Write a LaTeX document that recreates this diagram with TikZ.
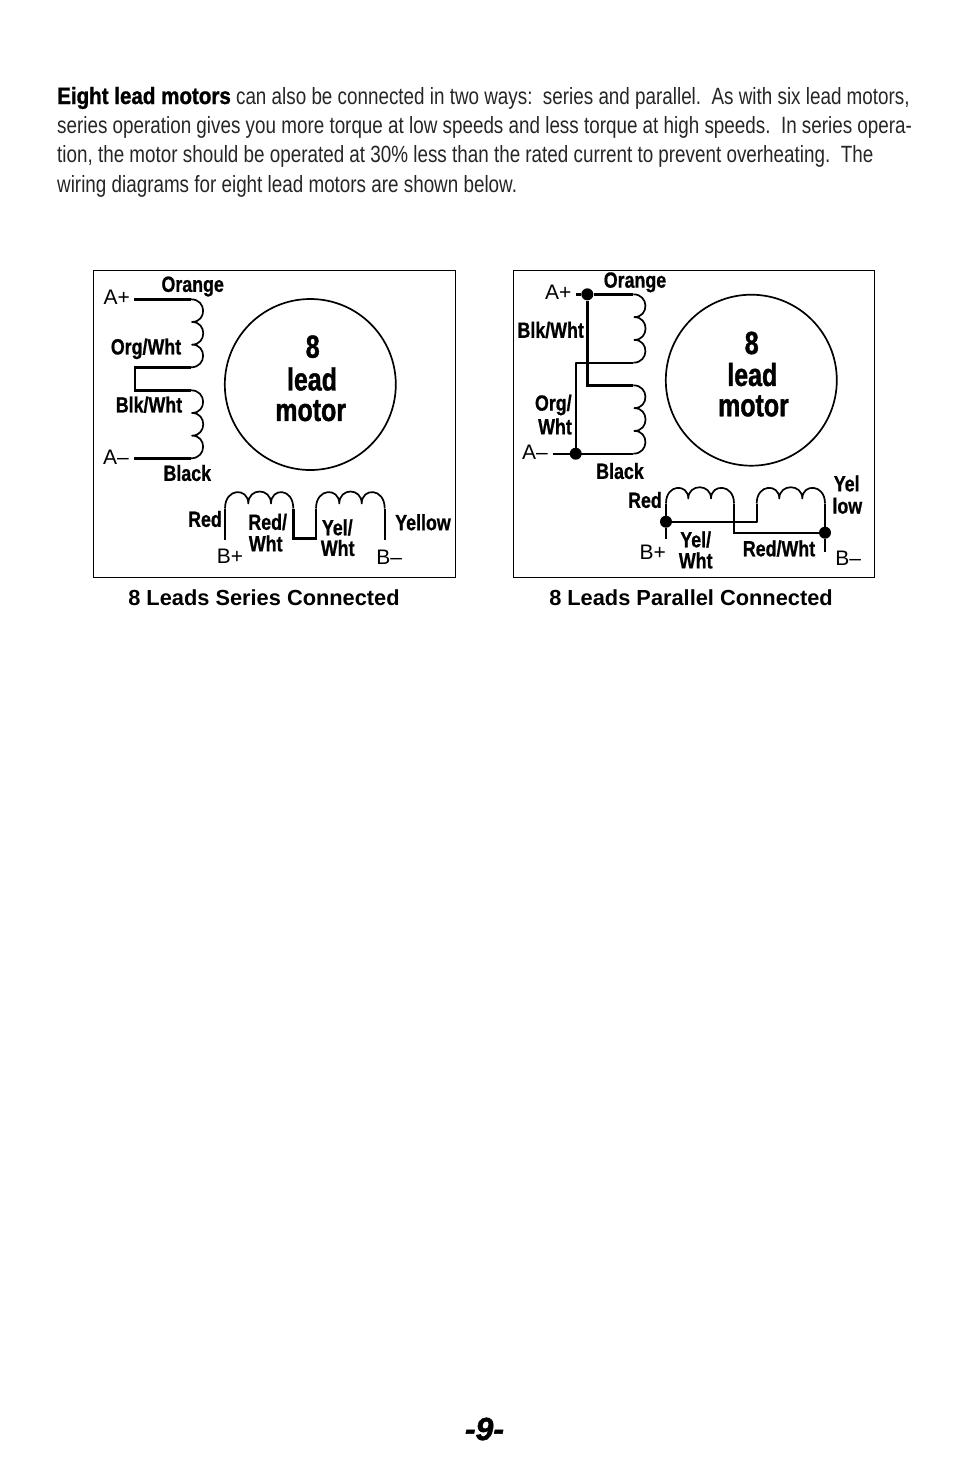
\documentclass[tikz,border=0pt]{standalone}
\usepackage{fontspec}
\setmainfont{Liberation Sans}
\newfontfamily\bodyfont[FakeStretch=0.802]{Liberation Sans}
\newfontfamily\bodybold[FakeStretch=0.875,FakeBold=1.2]{Liberation Sans Bold}
\newfontfamily\condbold[FakeStretch=0.81,FakeBold=0.8]{Liberation Sans Bold}
\newfontfamily\motorbold[FakeStretch=0.78,FakeBold=1.2]{Liberation Sans Bold}
\newfontfamily\plainfont{Liberation Sans}
\newfontfamily\boldfont{Liberation Sans Bold}
\newfontfamily\pagefont[FakeBold=1.5]{Liberation Sans Bold Italic}
\newcommand{\vcoil}[3]{% x of the wire end, top y, bottom y
  \pgfmathsetmacro{\vca}{#2+(#3-#2)/3}\pgfmathsetmacro{\vcb}{#2+2*(#3-#2)/3}
  \draw[wire] (#1,#2) .. controls ({#1+16},#2) and ({#1+16},\vca) .. ({#1+1},\vca)
    .. controls ({#1+16},\vca) and ({#1+16},\vcb) .. ({#1+1},\vcb)
    .. controls ({#1+16},\vcb) and ({#1+16},#3) .. (#1,#3);}
\newcommand{\hcoil}[6]{% left leg x, cusp 1, cusp 2, right leg x, cusp y, control y
  \draw[wire] (#1,{#5+5}) .. controls (#1,#6) and (#2,#6) .. (#2,#5)
    .. controls (#2,#6) and (#3,#6) .. (#3,#5)
    .. controls (#3,#6) and (#4,#6) .. (#4,{#5+5});}
\tikzset{
  wire/.style={line width=1.7pt,line join=round},
  heavy/.style={line width=2.4pt,line join=miter},
  frame/.style={draw,line width=1pt},
  motorring/.style={circle,draw,line width=1.7pt,minimum size=171pt,inner sep=0pt},
  wirelabel/.style={inner sep=0pt,font=\condbold\fontsize{22}{22}\selectfont},
  termlabel/.style={inner sep=0pt,font=\plainfont\fontsize{21}{21}\selectfont},
  motortext/.style={inner sep=0pt,font=\motorbold\fontsize{32}{32}\selectfont},
  captiontext/.style={inner sep=0pt,font=\boldfont\fontsize{21.8}{21.8}\selectfont},
  bodyline/.style={anchor=base west,inner sep=0pt,text=black!85,font=\bodyfont\fontsize{23.5}{23.5}\selectfont},
  junction/.style={circle,fill,inner sep=0pt,minimum size=12pt},
}
\begin{document}
\begin{tikzpicture}[x=1pt,y=-1pt]
\useasboundingbox (0,0) rectangle (954,1475);
\fill[white] (0,0) rectangle (954,1475);
% paragraph
\node[bodyline] (p1) at (57,104) {{\bodybold\color{black} Eight lead motors} can also be connected in two ways:\ \ series and parallel.\ \ As with six lead motors,};
\node[bodyline] (p2) at (57,133) {series operation gives you more torque at low speeds and less torque at high speeds.\ \ In series opera-};
\node[bodyline] (p3) at (57,162) {tion, the motor should be operated at 30\% less than the rated current to prevent overheating.\ \ The};
\node[bodyline] (p4) at (57,192) {wiring diagrams for eight lead motors are shown below.};
% left panel
\node[frame,minimum width=362pt,minimum height=307pt,inner sep=0pt] (leftbox) at (274.3,423.5) {};
\node[motorring] (leftmotor) at (310.3,384.5) {};
\node[motortext] (l8) at (312.7,346.7) {8};
\node[motortext] (llead) at (312,379) {lead};
\node[motortext] (lmotor) at (310.7,410.7) {motor};
\coordinate (lap) at (134,299.3);
\coordinate (lc1t) at (191,299.3);
\coordinate (lc1b) at (191,367.3);
\coordinate (ljt) at (135,367.3);
\coordinate (ljb) at (135,390.3);
\coordinate (lc2t) at (191,390.3);
\coordinate (lc2b) at (191,458.3);
\coordinate (lam) at (134,458.3);
\draw[heavy] (lap) -- (lc1t);
\vcoil{191}{299.3}{367.3}
\draw[heavy] (lc1b) -- (ljt) -- (ljb) -- (lc2t);
\vcoil{191}{390.3}{458.3}
\draw[heavy] (lc2b) -- (lam);
\hcoil{225}{248.3}{271}{293.3}{503.5}{487.5}
\hcoil{316}{339.3}{361.7}{384.7}{503.5}{487.5}
\coordinate (lbp) at (225,540);
\coordinate (lbpt) at (225,508.5);
\coordinate (lbmt) at (384.7,508.5);
\coordinate (lbm) at (384.7,540);
\coordinate (ljl) at (293.3,508.5);
\coordinate (ljc1) at (293.3,538.5);
\coordinate (ljc2) at (316,538.5);
\coordinate (ljr) at (316,508.5);
\draw[heavy] (lbp) -- (lbpt);
\draw[heavy] (lbm) -- (lbmt);
\draw[heavy] (ljl) -- (ljc1) -- (ljc2) -- (ljr);
\node[wirelabel] (lorange) at (192.7,286.5) {Orange};
\node[wirelabel] (lorgw) at (146,348.8) {Org/Wht};
\node[wirelabel] (lblkw) at (149,404.7) {Blk/Wht};
\node[wirelabel] (lblack) at (187.3,473) {Black};
\node[wirelabel] (lred) at (205,519) {Red};
\node[wirelabel] (lredw1) at (267.7,522) {Red/};
\node[wirelabel] (lredw2) at (265.7,543.5) {Wht};
\node[wirelabel] (lyelw1) at (337.3,527.5) {Yel/};
\node[wirelabel] (lyelw2) at (337.7,548) {Wht};
\node[wirelabel] (lyellow) at (423,522.3) {Yellow};
\node[termlabel] (tap) at (116.7,297) {A+};
\node[termlabel] (tam) at (116,457) {A–};
\node[termlabel] (tbp) at (230,556.5) {B+};
\node[termlabel] (tbm) at (389.3,557) {B–};
\node[captiontext] (lcap) at (264,597.5) {8 Leads Series Connected};
% right panel
\node[frame,minimum width=361pt,minimum height=307pt,inner sep=0pt] (rightbox) at (693.8,423.5) {};
\node[motorring] (rightmotor) at (751.3,380.2) {};
\node[motortext] (r8) at (751.7,343) {8};
\node[motortext] (rlead) at (752.3,374.5) {lead};
\node[motortext] (rmotor) at (753.5,406) {motor};
\node[junction] (rap) at (587.3,294.3) {};
\node[junction] (ram) at (575.7,453.7) {};
\node[junction] (rbp) at (666,521.7) {};
\node[junction] (rbm) at (825,532.7) {};
\coordinate (rapl) at (575.7,294.3);
\coordinate (rc1t) at (633.3,294.3);
\coordinate (rc1b) at (633.3,362.7);
\coordinate (rjk) at (575.7,362.7);
\coordinate (rk1) at (587.3,385.3);
\coordinate (rc2t) at (633.3,385.3);
\coordinate (rc2b) at (633.3,453.7);
\coordinate (raml) at (552.7,453.7);
\draw[heavy] (rapl) -- (rap);
\draw[heavy] (rap) -- (rc1t);
\vcoil{633.3}{294.3}{362.7}
\draw[wire] (rc1b) -- (rjk) -- (ram);
\draw[heavy] (rap) -- (rk1) -- (rc2t);
\vcoil{633.3}{385.3}{453.7}
\draw[heavy] (raml) -- (rc2b);
\hcoil{666}{688.3}{711}{734}{498.5}{483.5}
\hcoil{756.7}{779.3}{802.3}{825}{498.5}{483.5}
\coordinate (rbpb) at (666,539);
\coordinate (rbpt) at (666,503.5);
\coordinate (rl1) at (734,503.5);
\coordinate (rl2) at (734,532.7);
\coordinate (rl3) at (756.7,503.5);
\coordinate (rl4) at (756.7,521.7);
\coordinate (rbmt) at (825,503.5);
\coordinate (rbmb) at (825,551.7);
\draw[heavy] (rbpb) -- (rbp);
\draw[wire] (rbp) -- (rbpt);
\draw[heavy] (rl1) -- (rl2) -- (rbm);
\draw[wire] (rbp) -- (rl4) -- (rl3);
\draw[wire] (rbmt) -- (rbm);
\draw[wire] (rbm) -- (rbmb);
\node[wirelabel] (rorange) at (635,282.3) {Orange};
\node[wirelabel] (rblkw) at (550.7,330) {Blk/Wht};
\node[wirelabel] (rorgw1) at (553.3,405) {Org/};
\node[wirelabel] (rorgw2) at (555,426.5) {Wht};
\node[wirelabel] (rblack) at (620,471) {Black};
\node[wirelabel] (rred) at (645,500) {Red};
\node[wirelabel] (ryel1) at (846.7,483.5) {Yel};
\node[wirelabel] (ryel2) at (847.3,505.7) {low};
\node[wirelabel] (ryelw1) at (695.7,539.5) {Yel/};
\node[wirelabel] (ryelw2) at (695.7,560.5) {Wht};
\node[wirelabel] (rredw) at (779,548.5) {Red/Wht};
\node[termlabel] (sap) at (558.3,292) {A+};
\node[termlabel] (sam) at (535,452.5) {A–};
\node[termlabel] (sbp) at (652.7,552) {B+};
\node[termlabel] (sbm) at (848.3,558.5) {B–};
\node[captiontext] (rcap) at (691,597.5) {8 Leads Parallel Connected};
% page number
\node[inner sep=0pt,font=\pagefont\fontsize{32}{32}\selectfont] (pageno) at (484.5,1429) {-9-};
\end{tikzpicture}
\end{document}
